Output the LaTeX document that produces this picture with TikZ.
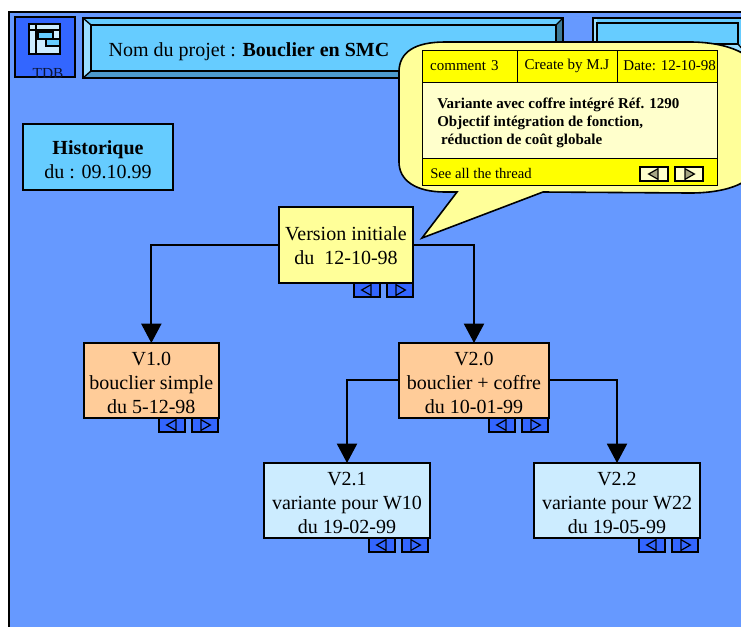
\documentclass[tikz,border=0pt]{standalone}
\usepackage{fontspec}
\setmainfont{Liberation Serif}
\usetikzlibrary{arrows.meta}
\definecolor{fond}{HTML}{6699FF}
\definecolor{bleu}{HTML}{3366FF}
\definecolor{ciel}{HTML}{66CCFF}
\definecolor{pale}{HTML}{CCECFF}
\definecolor{clair}{HTML}{99DDFF}
\definecolor{moyen}{HTML}{4D99CC}
\definecolor{sombre}{HTML}{3D7A99}
\definecolor{orange}{HTML}{FFCC99}
\definecolor{creme}{HTML}{FFFF99}
\definecolor{ivoire}{HTML}{FFFFCC}
\definecolor{jaune}{HTML}{FFFF00}
\newcommand{\haut}{\rule{0pt}{14pt}}
\tikzset{
  boite/.style={draw=black,line width=1.5pt,align=center,font=\fontsize{15}{18}\selectfont,inner sep=0pt,outer sep=0pt,anchor=north west},
  cellule/.style={draw=black,line width=.75pt,fill=jaune,anchor=north west,inner sep=0pt,outer sep=0pt,font=\fontsize{11.25}{13.5}\selectfont},
  lien/.style={line width=1.5pt},
  fleche/.style={lien,-{Triangle[length=14.5pt,width=15pt]}},
  bouton/.style={draw=black,line width=2pt,fill=bleu,minimum width=19.5pt,minimum height=10.5pt,inner sep=0pt,outer sep=0pt,anchor=north west},
  gauche/.style={path picture={\draw[line width=.9pt,fill=#1] ([xshift=-4pt]path picture bounding box.center) -- ([xshift=3pt,yshift=4pt]path picture bounding box.center) -- ([xshift=3pt,yshift=-4pt]path picture bounding box.center) -- cycle;}},
  droite/.style={path picture={\draw[line width=.9pt,fill=#1] ([xshift=4pt]path picture bounding box.center) -- ([xshift=-3pt,yshift=4pt]path picture bounding box.center) -- ([xshift=-3pt,yshift=-4pt]path picture bounding box.center) -- cycle;}},
}
\begin{document}
\begin{tikzpicture}[x=.75pt,y=-.75pt]
\clip (0,0) rectangle (741,626);
% fond
\fill[white] (0,0) rectangle (741,626);
\draw[fill=fond,line width=1.2pt] (9,12) rectangle (760,640);
% tableau de bord
\draw[fill=bleu,line width=1.2pt] (15,17) rectangle (75,77);
\draw[fill=pale,line width=1.2pt] (29,24) rectangle (60,54);
\draw[line width=1.2pt] (36,24) -- (36,54) (29,30) -- (60,30);
\draw[fill=ciel,line width=1pt] (38,32) rectangle (53,39);
\draw[fill=ciel,line width=1pt] (46,39) rectangle (60,46);
\node[font=\fontsize{11.5}{12}\selectfont,text=black!80!bleu] (tdb) at (48,73) {TDB};
% bandeaux
\fill[ciel] (83,18) rectangle (563,78);
\fill[clair] (83,18) -- (91,25) -- (91,71) -- (83,78) -- cycle;
\fill[moyen] (83,78) -- (91,71) -- (556,71) -- (563,78) -- cycle;
\fill[sombre] (563,18) -- (556,25) -- (556,71) -- (563,78) -- cycle;
\draw[line width=1.5pt] (83,18) rectangle (563,78);
\draw[fill=ciel,line width=1.5pt] (91,25) rectangle (556,71);
\draw[line width=1pt] (83,18) -- (91,25) (83,78) -- (91,71) (563,18) -- (556,25) (563,78) -- (556,71);
\node[font=\fontsize{15}{18}\selectfont] (projet) at (249,52) {Nom du projet : \textbf{Bouclier en SMC}};
\draw[fill=ciel,line width=1.5pt] (593,18) rectangle (745,52);
\fill[clair] (594,19) rectangle (597,51);
\fill[clair] (597,45) rectangle (744,51);
\draw[fill=ciel,line width=1.5pt] (597,23) rectangle (738,44);
\draw[line width=1pt] (738,44) -- (745,52);
% historique
\node[boite,fill=ciel,minimum width=112.5pt,minimum height=49.5pt] (historique) at (23,124) {\haut\textbf{Historique}\\du : 09.10.99};
% versions
\node[boite,fill=creme,minimum width=100.5pt,minimum height=57pt] (initiale) at (279,207) {\rule{0pt}{12pt}Version initiale\\du~ 12-10-98};
\node[boite,fill=orange,minimum width=101pt,minimum height=56pt] (v10) at (84,343) {\haut V1.0\\bouclier simple\\du 5-12-98};
\node[boite,fill=orange,minimum width=112.5pt,minimum height=56pt] (v20) at (399,343) {\haut V2.0\\bouclier + coffre\\du 10-01-99};
\node[boite,fill=pale,minimum width=124.5pt,minimum height=56pt] (v21) at (264,463) {\haut V2.1\\variante pour W10\\du 19-02-99};
\node[boite,fill=pale,minimum width=124.5pt,minimum height=56pt] (v22) at (534,463) {\haut V2.2\\variante pour W22\\du 19-05-99};
\foreach \nom/\xa/\ya in {initiale/354/283,v10/159/418,v20/489/418,v21/369/538,v22/639/538}{
  \node[bouton,gauche=bleu] (\nom g) at (\xa,\ya) {};
  \node[bouton,droite=bleu,xshift=24.75pt] (\nom d) at (\xa,\ya) {};
}
% liens
\draw[fleche] (initiale.west) -| (v10.north);
\draw[fleche] (initiale.east) -| (v20.north);
\draw[fleche] (v20.west) -| (v21.north);
\draw[fleche] (v20.east) -| (v22.north);
% bulle
\draw[fill=creme,line width=1.2pt] (457,192) -- (422,238) -- (543,192) -- (690,193)
  .. controls (728,193) and (758,182) .. (758,160) -- (758,75)
  .. controls (758,55) and (728,42) .. (690,42) -- (445,42)
  .. controls (415,42) and (399,52) .. (399,72) -- (399,162)
  .. controls (399,180) and (415,192) .. (445,192) -- cycle;
\node[cellule,minimum width=71.25pt,minimum height=24pt,text width=65pt,align=left] (comment) at (422,50) {\hspace*{3pt}\mbox{comment 3}};
\node[cellule,minimum width=75pt,minimum height=24pt] (auteur) at (517,50) {Create by M.J};
\node[cellule,minimum width=75pt,minimum height=24pt] (date) at (617,50) {\hspace*{4pt}Date: 12-10-98};
\node[cellule,fill=ivoire,minimum width=221.25pt,minimum height=57pt] (texte) at (422,82) {};
\node[anchor=west,align=left,inner sep=0pt,font=\fontsize{11.25}{13.5}\selectfont\bfseries] (detail) at (437,123) {Variante avec coffre intégré Réf. 1290\\Objectif intégration de fonction,\\\ réduction de coût globale};
\node[cellule,minimum width=221.25pt,minimum height=20.25pt] (pied) at (422,158) {};
\node[anchor=west,inner sep=0pt,font=\fontsize{11}{13}\selectfont] (fil) at (430,173) {See all the thread};
\node[bouton,gauche=black!35!ivoire,fill=ivoire,minimum width=21pt] (filg) at (640,167) {};
\node[bouton,droite=black!35!ivoire,fill=ivoire,minimum width=21pt] (fild) at (675,167) {};
\end{tikzpicture}
\end{document}
